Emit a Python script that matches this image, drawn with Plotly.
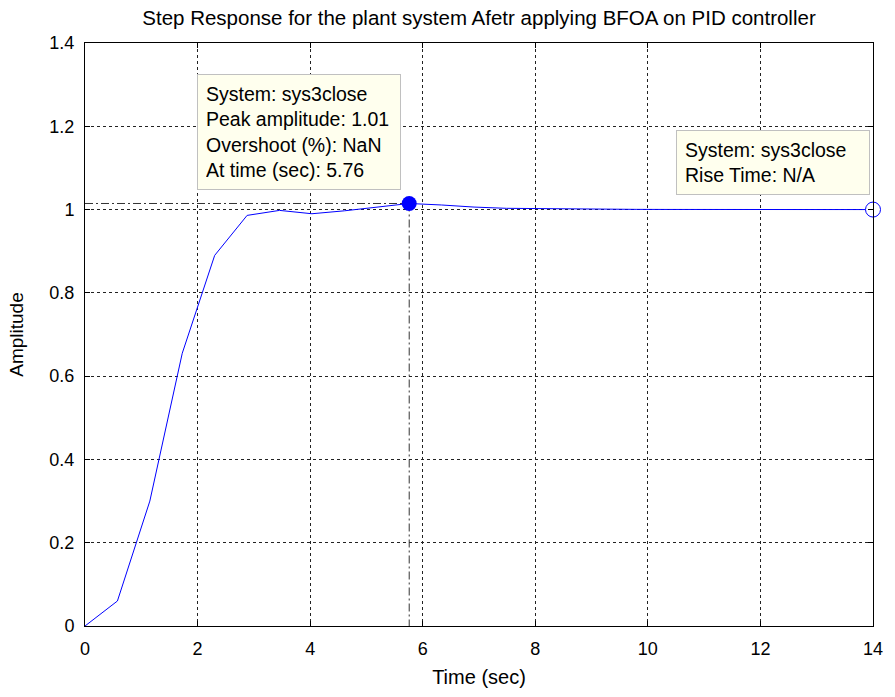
import plotly.graph_objects as go

# Step response samples (time in sec, amplitude)
time_s = [0, 0.576, 1.152, 1.728, 2.304, 2.88, 3.456, 4.032, 4.608, 5.184, 5.76,
          6.336, 6.912, 7.488, 8.064, 8.64, 9.216, 9.792, 10.368, 10.944, 11.52,
          12.096, 12.672, 13.248, 13.824, 14.0]
amplitude = [0, 0.06, 0.30, 0.655, 0.89, 0.986, 0.998, 0.990, 0.997, 1.006, 1.0146,
             1.011, 1.006, 1.003, 1.002, 1.001, 1.001, 1.0005, 1.0003, 1.0002, 1.0001,
             1.0001, 1.0, 1.0, 1.0, 1.0]

peak_time = 5.76
peak_amp = 1.0146
final_time = 14.0
final_amp = 1.0

x_ticks = [0, 2, 4, 6, 8, 10, 12, 14]
y_ticks = [0, 0.2, 0.4, 0.6, 0.8, 1.0, 1.2, 1.4]
y_tick_text = ["0", "0.2", "0.4", "0.6", "0.8", "1", "1.2", "1.4"]

peak_tip = ["System: sys3close", "Peak amplitude: 1.01", "Overshoot (%): NaN", "At time (sec): 5.76"]
rise_tip = ["System: sys3close", "Rise Time: N/A"]

FONT = "Arial, Liberation Sans, sans-serif"
DASHDOT = "8px,3px,2px,3px"

fig = go.Figure()

# peak reference lines (dash-dot)
fig.add_trace(go.Scatter(x=[0, peak_time], y=[peak_amp, peak_amp], mode="lines",
                         line=dict(color="#333333", width=1, dash=DASHDOT),
                         hoverinfo="skip", showlegend=False))
fig.add_trace(go.Scatter(x=[peak_time, peak_time], y=[peak_amp, 0], mode="lines",
                         line=dict(color="#333333", width=1, dash=DASHDOT),
                         hoverinfo="skip", showlegend=False))

# response curve
fig.add_trace(go.Scatter(x=time_s, y=amplitude, mode="lines",
                         line=dict(color="#0000FF", width=1),
                         showlegend=False, name="sys3close"))

# peak marker
fig.add_trace(go.Scatter(x=[peak_time], y=[peak_amp], mode="markers",
                         marker=dict(color="#0000FF", size=15, line=dict(width=0)),
                         showlegend=False, cliponaxis=False))
# rise time marker (open)
fig.add_trace(go.Scatter(x=[final_time], y=[final_amp], mode="markers",
                         marker=dict(color="white", size=15,
                                     line=dict(color="#0000FF", width=1)),
                         showlegend=False, cliponaxis=False))

fig.add_annotation(x=1.99, y=1.326, xref="x", yref="y", xanchor="left", yanchor="top",
                   text="<br>".join(peak_tip), showarrow=False, align="left", width=186,
                   font=dict(family=FONT, size=19.5, color="black"),
                   bgcolor="#FFFFEE", bordercolor="#C0C0C0", borderwidth=1, borderpad=8)
fig.add_annotation(x=10.5, y=1.19, xref="x", yref="y", xanchor="left", yanchor="top",
                   text="<br>".join(rise_tip), showarrow=False, align="left", width=176,
                   font=dict(family=FONT, size=19.5, color="black"),
                   bgcolor="#FFFFEE", bordercolor="#C0C0C0", borderwidth=1, borderpad=8)

axis_common = dict(showline=True, linecolor="black", linewidth=1, mirror="ticks",
                   ticks="inside", ticklen=5, tickcolor="black",
                   showgrid=True, gridcolor="#222222", gridwidth=1, griddash="3px,3px",
                   zeroline=False, tickfont=dict(family=FONT, size=18, color="black"))

fig.update_xaxes(range=[0, 14], tickvals=x_ticks, ticktext=[str(v) for v in x_ticks],
                 title=dict(text="Time (sec)", font=dict(family=FONT, size=20, color="black"), standoff=12),
                 ticklabelstandoff=6, **axis_common)
fig.update_yaxes(range=[0, 1.4], tickvals=y_ticks, ticktext=y_tick_text,
                 title=dict(text="Amplitude", font=dict(family=FONT, size=19, color="black"), standoff=20),
                 ticklabelstandoff=6, **axis_common)

fig.update_layout(
    width=895, height=697,
    margin=dict(l=85, r=12, t=43, b=65),
    paper_bgcolor="white", plot_bgcolor="white",
    title=dict(text="Step Response for the plant system Afetr applying BFOA on PID controller",
               x=0.5, xref="paper", y=1 - 18 / 697, yref="container", yanchor="middle",
               font=dict(family=FONT, size=20.5, color="black")),
    showlegend=False,
)

fig.write_html("out.html")
